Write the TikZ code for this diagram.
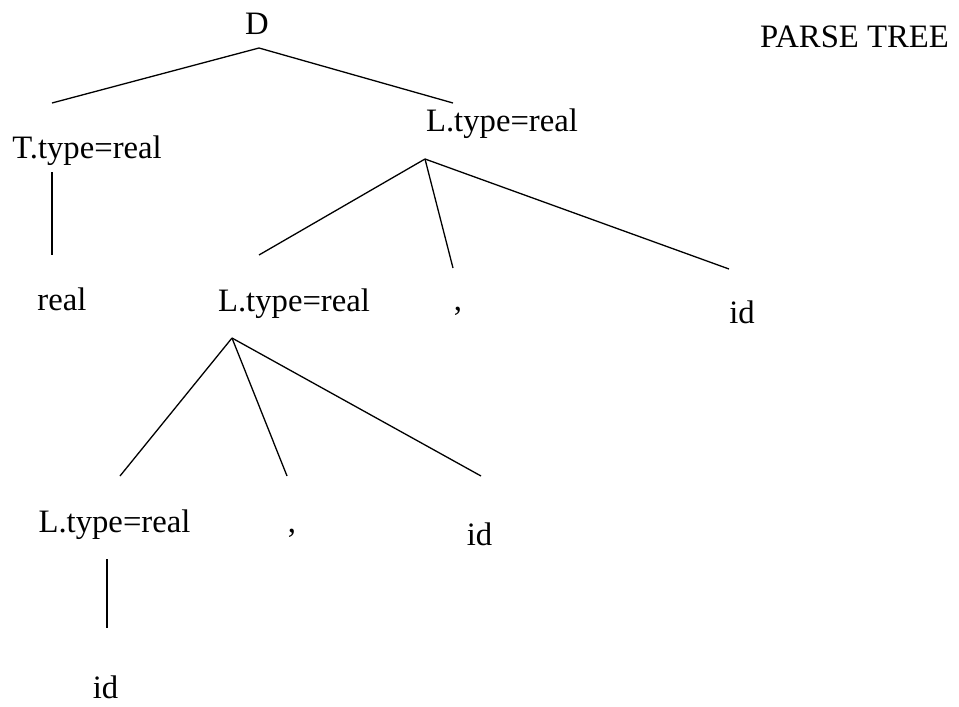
\documentclass[tikz,border=0pt]{standalone}
\usepackage{fontspec}
\setmainfont{Liberation Serif}
\begin{document}
\begin{tikzpicture}[x=1pt,y=-1pt,
  lbl/.style={anchor=base,inner sep=0pt,font=\fontsize{32.7}{39}\selectfont},
  edge/.style={line width=1.3pt}]
\useasboundingbox (0,0) rectangle (959,707);
% nodes
\node[lbl] (D) at (257,34) {D};
\node[lbl] (title) at (854.5,47) {PARSE TREE};
\node[lbl] (T) at (87,158) {T.type=real};
\node[lbl] (Ltop) at (502,131) {L.type=real};
\node[lbl] (real) at (62,310) {real};
\node[lbl] (Lmid) at (294,311) {L.type=real};
\node[lbl] (comma1) at (458,310) {,};
\node[lbl] (id1) at (742,323) {id};
\node[lbl] (Lbot) at (114.5,532) {L.type=real};
\node[lbl] (comma2) at (292,532) {,};
\node[lbl] (id2) at (479.5,545) {id};
\node[lbl] (id3) at (105.5,698) {id};
% connector end points
\coordinate (D-o) at (259,48);
\coordinate (T-i) at (52,103);
\coordinate (Ltop-i) at (453,103);
\coordinate (T-o) at (52,172);
\coordinate (real-i) at (52,255);
\coordinate (Ltop-o) at (425,159);
\coordinate (Lmid-i) at (259,255);
\coordinate (comma1-i) at (453,268);
\coordinate (id1-i) at (729,269);
\coordinate (Lmid-o) at (232,338);
\coordinate (Lbot-i) at (120,476);
\coordinate (comma2-i) at (287,476);
\coordinate (id2-i) at (481,476);
\coordinate (Lbot-o) at (107,559);
\coordinate (id3-i) at (107,628);
% connectors
\draw[edge] (D-o) -- (T-i);
\draw[edge] (D-o) -- (Ltop-i);
\draw[edge] (T-o) -- (real-i);
\draw[edge] (Ltop-o) -- (Lmid-i);
\draw[edge] (Ltop-o) -- (comma1-i);
\draw[edge] (Ltop-o) -- (id1-i);
\draw[edge] (Lmid-o) -- (Lbot-i);
\draw[edge] (Lmid-o) -- (comma2-i);
\draw[edge] (Lmid-o) -- (id2-i);
\draw[edge] (Lbot-o) -- (id3-i);
\end{tikzpicture}
\end{document}
